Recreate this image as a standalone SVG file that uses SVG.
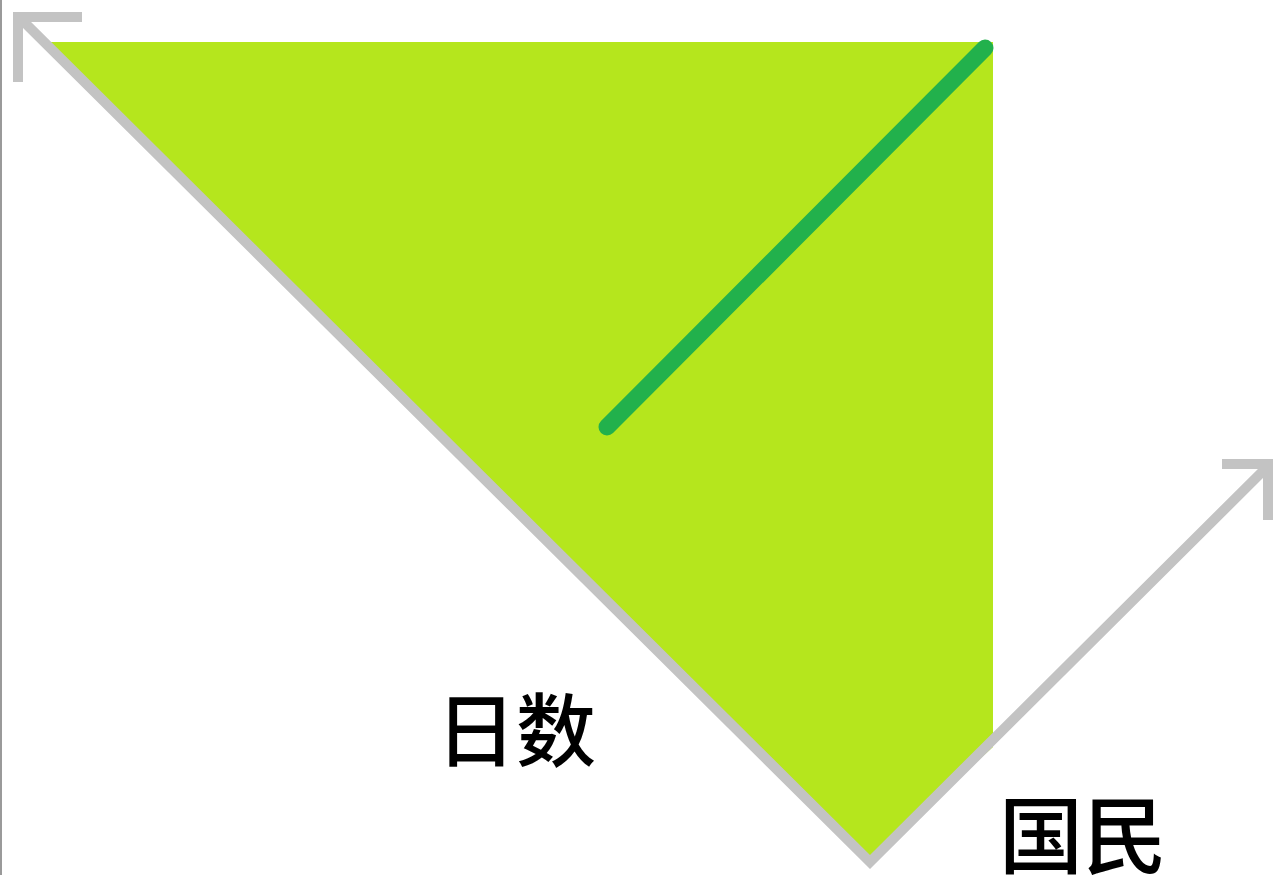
<svg xmlns="http://www.w3.org/2000/svg" width="1280" height="875" viewBox="0 0 1280 875">
<style>
.axis{fill:none;stroke:#c3c3c3;stroke-width:10;stroke-linecap:butt;stroke-linejoin:miter}
.lbl{font-family:"Noto Sans CJK SC","Noto Sans CJK JP",sans-serif;font-size:80px;font-weight:500;fill:#000}
</style>
<rect width="1280" height="875" fill="#fff"/>
<line x1="1" y1="0" x2="1" y2="875" stroke="#9a9a9a" stroke-width="2"/>
<g id="area">
<polygon points="40,42 993,42 993,747 870,858 40,42" fill="#b5e61d"/>
</g>
<g id="connectors">
<polyline class="axis" points="22,20 870,862 1266,468"/>
<polyline class="axis" points="82,17 18,17 18,82"/>
<polyline class="axis" points="1222,464 1268,464 1268,520"/>
<line x1="607" y1="427" x2="985" y2="48" stroke="#22b14c" stroke-width="17" stroke-linecap="round"/>
</g>
<g id="label-days"><text class="lbl" x="436" y="760">日数</text></g>
<g id="label-nation"><text class="lbl" x="999" y="867" style="font-size:84px">国民</text></g>
</svg>
